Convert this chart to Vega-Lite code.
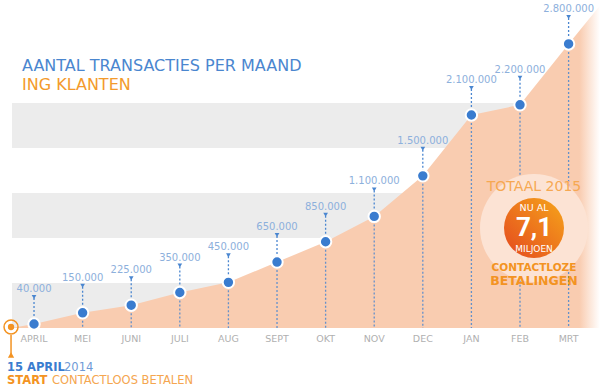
{
  "$schema": "https://vega.github.io/schema/vega-lite/v6.json",
  "width": 600,
  "height": 389,
  "padding": 0,
  "autosize": "none",
  "background": "#ffffff",
  "config": {"view": {"stroke": null}, "font": "DejaVu Sans"},
  "datasets": {
    "months": [
      {"m": "APRIL", "i": 0, "v": 40000, "label": "40.000"},
      {"m": "MEI", "i": 1, "v": 150000, "label": "150.000"},
      {"m": "JUNI", "i": 2, "v": 225000, "label": "225.000"},
      {"m": "JULI", "i": 3, "v": 350000, "label": "350.000"},
      {"m": "AUG", "i": 4, "v": 450000, "label": "450.000"},
      {"m": "SEPT", "i": 5, "v": 650000, "label": "650.000"},
      {"m": "OKT", "i": 6, "v": 850000, "label": "850.000"},
      {"m": "NOV", "i": 7, "v": 1100000, "label": "1.100.000"},
      {"m": "DEC", "i": 8, "v": 1500000, "label": "1.500.000"},
      {"m": "JAN", "i": 9, "v": 2100000, "label": "2.100.000"},
      {"m": "FEB", "i": 10, "v": 2200000, "label": "2.200.000"},
      {"m": "MRT", "i": 11, "v": 2800000, "label": "2.800.000"}
    ],
    "area": [
      {"i": -0.47, "v": 0},
      {"i": 0, "v": 40000},
      {"i": 1, "v": 150000},
      {"i": 2, "v": 225000},
      {"i": 3, "v": 350000},
      {"i": 4, "v": 450000},
      {"i": 5, "v": 650000},
      {"i": 6, "v": 850000},
      {"i": 7, "v": 1100000},
      {"i": 8, "v": 1500000},
      {"i": 9, "v": 2100000},
      {"i": 10, "v": 2200000},
      {"i": 11, "v": 2800000},
      {"i": 11.646, "v": 3180000}
    ],
    "bands": [
      {"lo": 0, "hi": 443600},
      {"lo": 887000, "hi": 1331000},
      {"lo": 1774000, "hi": 2218000}
    ],
    "start": [
      {"i": -0.473, "v": 0, "date": "15 APRIL", "year": "2014", "what": "START", "rest": "CONTACTLOOS BETALEN"}
    ],
    "badge": [
      {"i": 10.288, "v": 985700, "total": "TOTAAL 2015", "pre": "NU AL", "num": "7,1", "unit": "MILJOEN", "l1": "CONTACTLOZE", "l2": "BETALINGEN"}
    ],
    "titles": [
      {"i": -0.247, "v": 2533000, "t1": "AANTAL TRANSACTIES PER MAAND", "t2": "ING KLANTEN"}
    ]
  },
  "layer": [
    {
      "data": {"name": "bands"},
      "mark": {"type": "rect", "color": "#ececec"},
      "encoding": {
        "x": {"datum": -0.453, "type": "quantitative", "scale": {"domain": [-0.7, 11.646], "nice": false, "zero": false}, "axis": null},
        "x2": {"datum": 11.646},
        "y": {"field": "lo", "type": "quantitative", "scale": {"domain": [-601000, 3233000], "nice": false, "zero": false}, "axis": null},
        "y2": {"field": "hi"}
      }
    },
    {
      "data": {"name": "area"},
      "mark": {
        "type": "area",
        "interpolate": "linear",
        "color": {
          "gradient": "linear", "x1": 0, "y1": 0, "x2": 1, "y2": 0,
          "stops": [
            {"offset": 0, "color": "#f9ccb0"},
            {"offset": 0.965, "color": "#f9ccb0"},
            {"offset": 1, "color": "#ffffff"}
          ]
        }
      },
      "encoding": {
        "x": {"field": "i", "type": "quantitative"},
        "y": {"field": "v", "type": "quantitative"},
        "y2": {"datum": 0}
      }
    },
    {
      "data": {"name": "months"},
      "mark": {"type": "rule", "color": "#4a86d0", "strokeWidth": 1.3, "strokeDash": [2, 2], "opacity": 0.85},
      "encoding": {
        "x": {"field": "i", "type": "quantitative"},
        "y": {"field": "v", "type": "quantitative"},
        "y2": {"datum": 0}
      }
    },
    {
      "data": {"name": "badge"},
      "mark": {"type": "point", "shape": "circle", "filled": true, "size": 11664, "color": "#fce3d4", "opacity": 1},
      "encoding": {
        "x": {"field": "i", "type": "quantitative"},
        "y": {"field": "v", "type": "quantitative"}
      }
    },
    {
      "data": {"name": "badge"},
      "mark": {
        "type": "point", "shape": "circle", "filled": true, "size": 3600, "opacity": 1,
        "color": {
          "gradient": "linear", "x1": 0, "y1": 1, "x2": 1, "y2": 0,
          "stops": [
            {"offset": 0, "color": "#e4481f"},
            {"offset": 1, "color": "#f6a61a"}
          ]
        }
      },
      "encoding": {
        "x": {"field": "i", "type": "quantitative"},
        "y": {"field": "v", "type": "quantitative"}
      }
    },
    {
      "data": {"name": "months"},
      "mark": {"type": "rule", "color": "#4a86d0", "strokeWidth": 1.3, "strokeDash": [2, 2], "y2Offset": -27},
      "encoding": {
        "x": {"field": "i", "type": "quantitative"},
        "y": {"field": "v", "type": "quantitative"},
        "y2": {"field": "v"}
      }
    },
    {
      "data": {"name": "months"},
      "mark": {"type": "point", "shape": "triangle-down", "filled": true, "size": 22, "color": "#4a86d0", "opacity": 1, "yOffset": -27},
      "encoding": {
        "x": {"field": "i", "type": "quantitative"},
        "y": {"field": "v", "type": "quantitative"}
      }
    },
    {
      "data": {"name": "months"},
      "mark": {"type": "text", "fontSize": 10, "color": "#8db0dc", "baseline": "middle", "align": "center", "yOffset": -35},
      "encoding": {
        "x": {"field": "i", "type": "quantitative"},
        "y": {"field": "v", "type": "quantitative"},
        "text": {"field": "label"}
      }
    },
    {
      "data": {"name": "months"},
      "mark": {"type": "point", "shape": "circle", "filled": true, "size": 130, "color": "#3a7ccf", "stroke": "#ffffff", "strokeWidth": 2, "opacity": 1},
      "encoding": {
        "x": {"field": "i", "type": "quantitative"},
        "y": {"field": "v", "type": "quantitative"}
      }
    },
    {
      "data": {"name": "months"},
      "mark": {"type": "text", "fontSize": 9.5, "color": "#b0b0b0", "baseline": "middle", "align": "center"},
      "encoding": {
        "x": {"field": "i", "type": "quantitative"},
        "y": {"datum": -108000, "type": "quantitative"},
        "text": {"field": "m"}
      }
    },
    {
      "data": {"name": "start"},
      "mark": {"type": "rule", "color": "#f39322", "strokeWidth": 1.5, "yOffset": 7, "y2Offset": 28},
      "encoding": {
        "x": {"field": "i", "type": "quantitative"},
        "y": {"field": "v", "type": "quantitative"},
        "y2": {"field": "v"}
      }
    },
    {
      "data": {"name": "start"},
      "mark": {"type": "point", "shape": "triangle-up", "filled": true, "size": 40, "color": "#f39322", "opacity": 1, "yOffset": 27},
      "encoding": {
        "x": {"field": "i", "type": "quantitative"},
        "y": {"field": "v", "type": "quantitative"}
      }
    },
    {
      "data": {"name": "start"},
      "mark": {"type": "point", "shape": "circle", "filled": false, "size": 196, "color": "#f39322", "strokeWidth": 1.5, "opacity": 1, "yOffset": -1},
      "encoding": {
        "x": {"field": "i", "type": "quantitative"},
        "y": {"field": "v", "type": "quantitative"}
      }
    },
    {
      "data": {"name": "start"},
      "mark": {"type": "point", "shape": "circle", "filled": true, "size": 40, "color": "#f39322", "opacity": 1, "yOffset": -1},
      "encoding": {
        "x": {"field": "i", "type": "quantitative"},
        "y": {"field": "v", "type": "quantitative"}
      }
    },
    {
      "data": {"name": "start"},
      "mark": {"type": "text", "fontSize": 11.5, "fontWeight": "bold", "color": "#3a7ccf", "align": "left", "baseline": "middle", "dx": -4, "yOffset": 40},
      "encoding": {
        "x": {"field": "i", "type": "quantitative"},
        "y": {"field": "v", "type": "quantitative"},
        "text": {"field": "date"}
      }
    },
    {
      "data": {"name": "start"},
      "mark": {"type": "text", "fontSize": 11.5, "color": "#6f9ad6", "align": "left", "baseline": "middle", "dx": 53, "yOffset": 40},
      "encoding": {
        "x": {"field": "i", "type": "quantitative"},
        "y": {"field": "v", "type": "quantitative"},
        "text": {"field": "year"}
      }
    },
    {
      "data": {"name": "start"},
      "mark": {"type": "text", "fontSize": 11.5, "fontWeight": "bold", "color": "#f39322", "align": "left", "baseline": "middle", "dx": -4, "yOffset": 53},
      "encoding": {
        "x": {"field": "i", "type": "quantitative"},
        "y": {"field": "v", "type": "quantitative"},
        "text": {"field": "what"}
      }
    },
    {
      "data": {"name": "start"},
      "mark": {"type": "text", "fontSize": 11.5, "color": "#f5a650", "align": "left", "baseline": "middle", "dx": 41, "yOffset": 53},
      "encoding": {
        "x": {"field": "i", "type": "quantitative"},
        "y": {"field": "v", "type": "quantitative"},
        "text": {"field": "rest"}
      }
    },
    {
      "data": {"name": "badge"},
      "mark": {"type": "text", "fontSize": 14, "color": "#f6a852", "align": "center", "baseline": "middle", "yOffset": -41},
      "encoding": {
        "x": {"field": "i", "type": "quantitative"},
        "y": {"field": "v", "type": "quantitative"},
        "text": {"field": "total"}
      }
    },
    {
      "data": {"name": "badge"},
      "mark": {"type": "text", "fontSize": 9.5, "color": "#ffffff", "align": "center", "baseline": "middle", "yOffset": -20},
      "encoding": {
        "x": {"field": "i", "type": "quantitative"},
        "y": {"field": "v", "type": "quantitative"},
        "text": {"field": "pre"}
      }
    },
    {
      "data": {"name": "badge"},
      "mark": {"type": "text", "font": "Roboto", "fontSize": 26, "fontWeight": "bold", "color": "#ffffff", "align": "center", "baseline": "middle", "yOffset": 0},
      "encoding": {
        "x": {"field": "i", "type": "quantitative"},
        "y": {"field": "v", "type": "quantitative"},
        "text": {"field": "num"}
      }
    },
    {
      "data": {"name": "badge"},
      "mark": {"type": "text", "fontSize": 9, "color": "#ffffff", "align": "center", "baseline": "middle", "yOffset": 21},
      "encoding": {
        "x": {"field": "i", "type": "quantitative"},
        "y": {"field": "v", "type": "quantitative"},
        "text": {"field": "unit"}
      }
    },
    {
      "data": {"name": "badge"},
      "mark": {"type": "text", "fontSize": 10.5, "fontWeight": "bold", "color": "#f39322", "align": "center", "baseline": "middle", "yOffset": 40},
      "encoding": {
        "x": {"field": "i", "type": "quantitative"},
        "y": {"field": "v", "type": "quantitative"},
        "text": {"field": "l1"}
      }
    },
    {
      "data": {"name": "badge"},
      "mark": {"type": "text", "fontSize": 12.5, "fontWeight": "bold", "color": "#f39322", "align": "center", "baseline": "middle", "yOffset": 53},
      "encoding": {
        "x": {"field": "i", "type": "quantitative"},
        "y": {"field": "v", "type": "quantitative"},
        "text": {"field": "l2"}
      }
    },
    {
      "data": {"name": "titles"},
      "mark": {"type": "text", "fontSize": 16, "color": "#4a86cf", "align": "left", "baseline": "alphabetic"},
      "encoding": {
        "x": {"field": "i", "type": "quantitative"},
        "y": {"field": "v", "type": "quantitative"},
        "text": {"field": "t1"}
      }
    },
    {
      "data": {"name": "titles"},
      "mark": {"type": "text", "fontSize": 16, "color": "#f39a2c", "align": "left", "baseline": "alphabetic", "yOffset": 19},
      "encoding": {
        "x": {"field": "i", "type": "quantitative"},
        "y": {"field": "v", "type": "quantitative"},
        "text": {"field": "t2"}
      }
    }
  ]
}
